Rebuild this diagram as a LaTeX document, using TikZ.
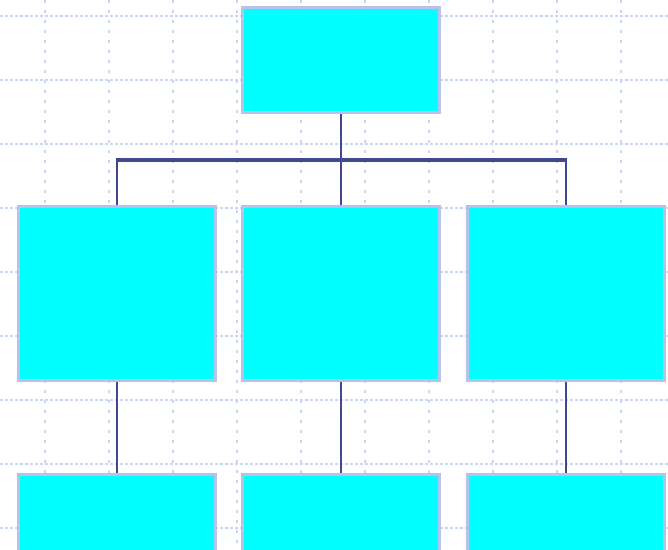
\documentclass[tikz,border=0pt]{standalone}
\definecolor{gridc}{RGB}{200,214,242}
\definecolor{boxedge}{RGB}{184,192,236}
\definecolor{boxfill}{RGB}{0,255,255}
\definecolor{linkc}{RGB}{64,72,144}
\begin{document}
\begin{tikzpicture}[x=1pt,y=-1pt,
  gridh/.style={draw=gridc,line width=1.4pt,dash pattern=on 3pt off 2pt},
  gridv/.style={draw=gridc,line width=1.4pt,dash pattern=on 2.5pt off 7.5pt},
  orgbox/.style={draw=boxedge,fill=boxfill,line width=3pt,minimum width=197pt,inner sep=0pt},
  topbox/.style={orgbox,minimum height=105pt},
  midbox/.style={orgbox,minimum height=174pt},
  lowbox/.style={orgbox,minimum height=150pt},
  buslink/.style={draw=linkc,line width=3.5pt},
  link/.style={draw=linkc,line width=2.2pt}]
\useasboundingbox (0,0) rectangle (668,549);
\clip (0,0) rectangle (668,549);
% grid
\foreach \yy in {16,80,...,528} \draw[gridh] (0,\yy) -- (668,\yy);
\foreach \xx in {45,109,...,621} \draw[gridv] (\xx,0) -- (\xx,549);
% boxes
\node[topbox] (top) at (341,60) {};
\node[midbox] (m1) at (117,293.5) {};
\node[midbox] (m2) at (341,293.5) {};
\node[midbox] (m3) at (566,293.5) {};
\node[lowbox] (b1) at (117,549.5) {};
\node[lowbox] (b2) at (341,549.5) {};
\node[lowbox] (b3) at (566,549.5) {};
% connectors
\coordinate (busl) at (117,160);
\coordinate (busr) at (566,160);
\draw[link] (top.south) -- (m2.north);
\draw[buslink] (busl) -- (busr);
\draw[link] (m1.north) -- ([yshift=1.75pt]busl);
\draw[link] (m3.north) -- ([yshift=1.75pt]busr);
\draw[link] (m1.south) -- (b1.north);
\draw[link] (m2.south) -- (b2.north);
\draw[link] (m3.south) -- (b3.north);
\end{tikzpicture}
\end{document}
